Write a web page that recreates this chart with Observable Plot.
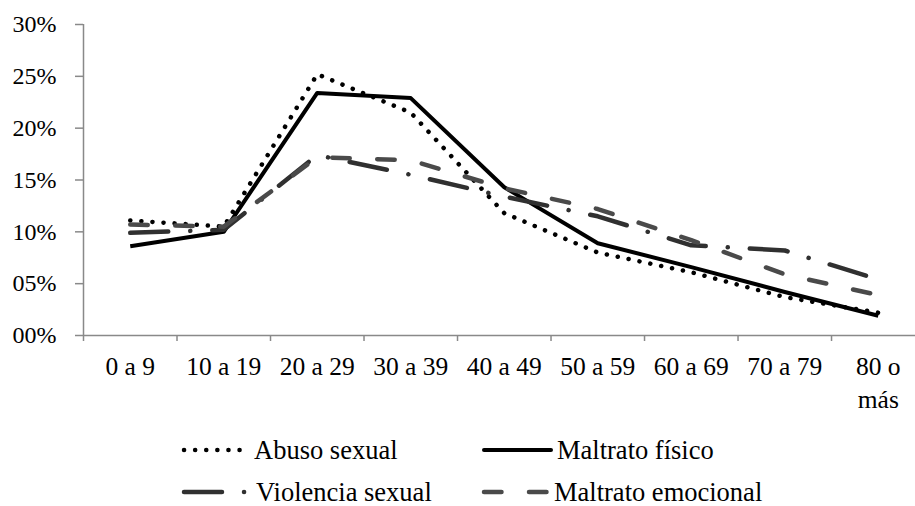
<!DOCTYPE html>
<html>
<head>
<meta charset="utf-8">
<script src="https://cdn.jsdelivr.net/npm/d3@7"></script>
<script src="https://cdn.jsdelivr.net/npm/@observablehq/plot@0.6"></script>
<style>
  html, body { margin: 0; padding: 0; background: #fff; }
  #wrap { width: 915px; height: 506px; position: relative; overflow: hidden; }
  #legend { position: relative; width: 915px; height: 90px; }
  .item { position: absolute; display: flex; align-items: center; height: 24px; line-height: 24px; font-size: 26.5px; color: #000; white-space: nowrap; }
  .item svg { display: block; }
</style>
</head>
<body>
<div id="wrap">
  <div id="chart"></div>
  <div id="legend"></div>
</div>
<script>
const categories = ["0 a 9", "10 a 19", "20 a 29", "30 a 39", "40 a 49", "50 a 59", "60 a 69", "70 a 79", "80 o más"];
const abusoSexual      = [11.1, 10.5, 25.2, 21.5, 11.8, 8.0, 6.1, 3.7, 2.2];
const maltratoFisico   = [8.6, 10.0, 23.4, 22.9, 14.3, 8.9, 6.6, 4.2, 1.9];
const violenciaSexual  = [9.9, 10.2, 17.4, 15.5, 13.4, 11.5, 8.7, 8.2, 5.4];
const maltratoEmocional = [10.7, 10.5, 17.2, 16.9, 14.2, 12.2, 9.2, 5.9, 3.9];
const yTicks = [0, 5, 10, 15, 20, 25, 30];

const seriesNames = ["Abuso sexual", "Maltrato físico", "Violencia sexual", "Maltrato emocional"];
const seriesValues = [abusoSexual, maltratoFisico, violenciaSexual, maltratoEmocional];
const styles = [
  {stroke: "#000", strokeWidth: 4.5, strokeDasharray: "0.1 11", strokeLinecap: "round"},
  {stroke: "#000", strokeWidth: 4, strokeDasharray: null, strokeLinecap: "butt"},
  {stroke: "#303030", strokeWidth: 4.5, strokeDasharray: "38 22 0.1 22", strokeLinecap: "round"},
  {stroke: "#4a4a4a", strokeWidth: 4.5, strokeDasharray: "17.5 27.5", strokeLinecap: "round"}
];

const FONT = '"Liberation Serif", Tinos, "Nimbus Roman", FreeSerif, serif';
const rows = (vals) => vals.map((v, i) => ({i, v}));
const boundaries = d3.range(categories.length).map(i => i - 0.5);
const axisGray = "#898989";

const lineMarks = seriesValues.map((vals, k) => {
  const s = styles[k];
  const o = {x: "i", y: "v", stroke: s.stroke, strokeWidth: s.strokeWidth, strokeLinecap: s.strokeLinecap, strokeLinejoin: "round"};
  if (s.strokeDasharray) o.strokeDasharray = s.strokeDasharray;
  return Plot.line(rows(vals), o);
});

const chart = Plot.plot({
  width: 915,
  height: 416,
  marginLeft: 83,
  marginRight: 0,
  marginTop: 24,
  marginBottom: 81,
  style: {background: "#fff", color: "#000"},
  x: {type: "linear", domain: [-0.5, 8.398], label: null},
  y: {domain: [0, 30], label: null},
  marks: [
    Plot.ruleY([0], {stroke: axisGray, strokeWidth: 1.5}),
    Plot.ruleX([-0.5], {stroke: axisGray, strokeWidth: 1.5}),
    Plot.axisY({ticks: yTicks, label: null, tickSize: 8, tickPadding: 19, stroke: axisGray, strokeWidth: 1.5, fill: "#000", fontSize: 24,
      tickFormat: d => String(d).padStart(2, "0") + "%"}),
    Plot.axisX({ticks: boundaries, label: null, tickSize: 6, stroke: axisGray, strokeWidth: 1.5, tickFormat: () => ""}),
    Plot.axisX({ticks: d3.range(categories.length), label: null, tickSize: 0, tickPadding: 16, fill: "#000", fontSize: 25.5, lineHeight: 1.3,
      tickFormat: i => categories[i].replace(" o más", " o\nmás")}),
    ...lineMarks
  ]
});
chart.style.fontFamily = FONT;
chart.removeAttribute("font-family");
chart.querySelectorAll("g, text, tspan").forEach(el => {
  el.removeAttribute("font-family");
  if (el.tagName === "text" || el.tagName === "tspan") el.style.fontFamily = FONT;
});
document.getElementById("chart").appendChild(chart);

// Legend
const legend = document.getElementById("legend");
const positions = [
  {left: 180, top: 22}, {left: 480, top: 22},
  {left: 180, top: 64}, {left: 480, top: 64}
];
const sampleWidths = [68, 75, 70, 72];
seriesNames.forEach((name, k) => {
  const s = styles[k];
  const div = document.createElement("div");
  div.className = "item";
  div.style.left = positions[k].left + "px";
  div.style.top = positions[k].top + "px";
  const w = sampleWidths[k];
  const svg = d3.create("svg").attr("width", w).attr("height", 24);
  svg.append("line")
    .attr("x1", 4).attr("x2", w - 4).attr("y1", 12).attr("y2", 12)
    .attr("stroke", s.stroke).attr("stroke-width", s.strokeWidth)
    .attr("stroke-linecap", k === 1 ? "round" : s.strokeLinecap)
    .attr("stroke-dasharray", s.strokeDasharray);
  div.appendChild(svg.node());
  const span = document.createElement("span");
  span.textContent = name;
  span.style.fontFamily = FONT;
  span.style.marginLeft = (k % 2 === 1 ? "2px" : "6px");
  div.appendChild(span);
  legend.appendChild(div);
});
</script>
</body>
</html>
